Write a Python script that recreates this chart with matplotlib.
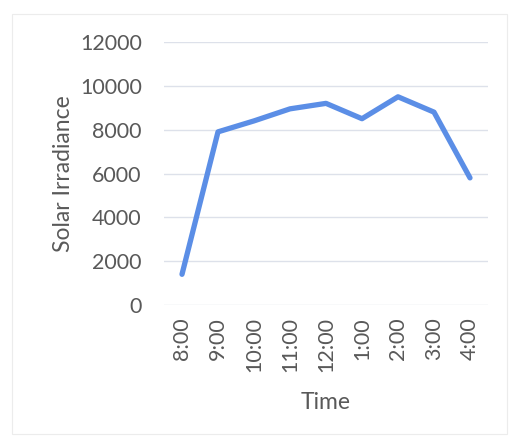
import numpy as np
import matplotlib.pyplot as plt
from matplotlib.patches import Rectangle

# Irradiância solar ao longo do dia
horas = ["8:00", "9:00", "10:00", "11:00", "12:00", "1:00", "2:00", "3:00", "4:00"]
irradiancia = [1400, 7900, 8400, 8950, 9200, 8500, 9500, 8800, 5800]
y_ticks = [0, 2000, 4000, 6000, 8000, 10000, 12000]

plt.rcParams['font.family'] = ['Lato', 'DejaVu Sans']

fig = plt.figure(figsize=(5.11, 4.38), dpi=100)
ax = fig.add_axes([164 / 511, 1 - 305 / 438, (488 - 164) / 511, (305 - 42) / 438])

x = np.arange(len(horas))
ax.plot(x, irradiancia, color='#5b8ee6', linewidth=3.8, solid_capstyle='round',
        solid_joinstyle='round', zorder=3)

ax.set_xlim(-0.5, len(horas) - 0.5)
ax.set_ylim(0, 12000)
ax.set_yticks(y_ticks)
ax.set_xticks(x)
ax.set_xticklabels(horas, rotation=90)

ax.grid(True, axis='y', color='#dde1ea', linewidth=1)
ax.set_axisbelow(True)
for s in ax.spines.values():
    s.set_visible(False)

ax.tick_params(axis='both', length=0, labelsize=15.5, labelcolor='#595959')
ax.tick_params(axis='y', pad=16)
ax.tick_params(axis='x', pad=9)

ax.set_ylabel("Solar Irradiance", fontsize=16.5, color='#595959', labelpad=4)
ax.set_xlabel("Time", fontsize=16.5, color='#595959', labelpad=14)

# moldura clara da área do gráfico
fig.patches.append(Rectangle((12 / 511, 4 / 438), 495 / 511, 420 / 438,
                             transform=fig.transFigure, fill=False,
                             edgecolor='#ececec', linewidth=0.8))

fig.savefig("out.png", dpi=100)
